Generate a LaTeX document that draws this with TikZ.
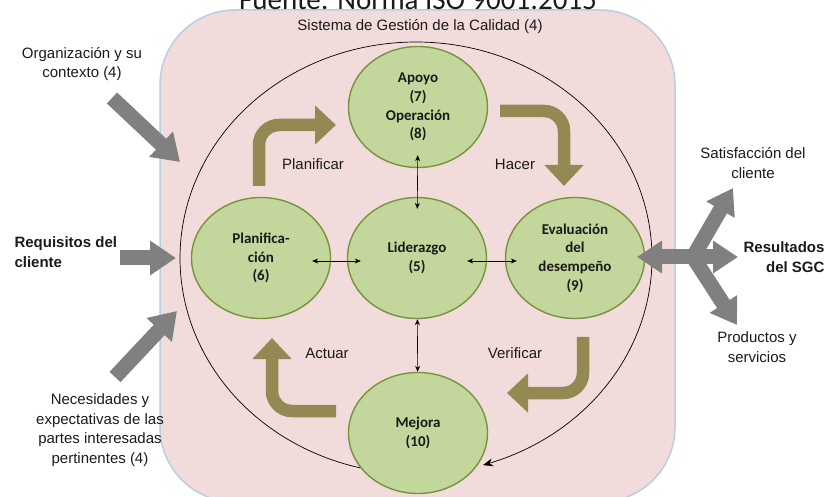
\documentclass[tikz,border=0pt]{standalone}
\usepackage{fontspec}
\setmainfont{Liberation Sans}
\newfontfamily\calfont{Carlito}
\usetikzlibrary{shapes.geometric,arrows.meta}
\definecolor{pinkbg}{HTML}{F2DCDB}
\definecolor{blueedge}{HTML}{B9CDE5}
\definecolor{greenfill}{HTML}{C3D69B}
\definecolor{greenedge}{HTML}{77933C}
\definecolor{olivec}{HTML}{938953}
\definecolor{grayarr}{HTML}{808080}
\definecolor{txt}{HTML}{1A1A1A}
\begin{document}
\begin{tikzpicture}[x=1pt,y=-1pt,
  proc/.style={ellipse, draw=greenedge, fill=greenfill, line width=1.4pt, minimum width=139pt, minimum height=121pt, inner sep=0pt, align=center, text=txt, font=\calfont\bfseries\fontsize{15}{18.7}\selectfont},
  lbl/.style={align=center, text=txt, font=\fontsize{15}{19.5}\selectfont},
  blbl/.style={align=center, text=txt, font=\bfseries\fontsize{15}{19.5}\selectfont},
  cyc/.style={draw=olivec, line width=12.5pt, rounded corners=20pt, -{Triangle[width=38pt,length=21pt]}},
  inarr/.style={draw=grayarr, line width=15pt, -{Triangle[width=33pt,length=26pt]}},
  outarr/.style={draw=grayarr, line width=15pt, line cap=round, -{Triangle[width=31pt,length=25pt]}},
  dbl/.style={{Stealth[length=6pt,width=5pt]}-{Stealth[length=6pt,width=5pt]}, line width=0.6pt, draw=black}
]
\useasboundingbox (0,0) rectangle (828,497);
\filldraw[fill=pinkbg, draw=blueedge, line width=1.5pt, rounded corners=75pt] (160,10) rectangle (675,502);
\node[anchor=base, font=\calfont\fontsize{29}{33}\selectfont, text=txt, inner sep=0pt] (src) at (418,10) {Fuente: Norma ISO 9001:2015};
\node[lbl] (sgc) at (420,27) {Sistema de Gestión de la Calidad (4)};

% process circles
\node[proc] (apo) at (418,107) {Apoyo\\(7)\\Operación\\(8)};
\node[proc] (lid) at (417,258) {Liderazgo\\(5)};
\node[proc] (pla) at (261,258) {Planifica-\\ción\\(6)};
\node[proc] (eva) at (575,258) {Evaluación\\del\\desempeño\\(9)};
\node[proc] (mej) at (418,433) {Mejora\\(10)};

% thin double arrows
\draw[dbl, shorten <=-13pt, shorten >=-12pt] (apo) -- (lid);
\draw[dbl] ([yshift=-3pt]pla.east) ++(-19pt,0) -- ([yshift=-3pt,xshift=14pt]lid.west);
\draw[dbl] ([yshift=-3pt,xshift=-20pt]lid.east) -- ([yshift=-3pt,xshift=12pt]eva.west);
\draw[dbl] (lid) -- (mej);

% big cycle ellipse
\draw[line width=0.7pt, -{Stealth[length=10pt,width=8pt]}] plot[domain=103.7:433.5, samples=160, smooth] ({416+236*cos(\x)},{258+216*sin(\x)});

% PDCA bent arrows
\coordinate (p1) at (259,186); \coordinate (p2) at (336,125);
\draw[cyc] (p1) |- (p2);
\coordinate (h1) at (500,111); \coordinate (h2) at (564,186);
\draw[cyc] (h1) -| (h2);
\coordinate (v1) at (583,337); \coordinate (v2) at (507,393);
\draw[cyc] (v1) |- (v2);
\coordinate (a1) at (336,411); \coordinate (a2) at (272,338);
\draw[cyc] (a1) -| (a2);
\node[lbl] (tp) at (313,164) {Planificar};
\node[lbl] (th) at (515,164) {Hacer};
\node[lbl] (ta) at (327,353) {Actuar};
\node[lbl] (tv) at (515,353) {Verificar};

% inputs
\node[lbl] (org) at (82,64) {Organización y su\\contexto (4)};
\coordinate (o1) at (112,98); \coordinate (o2) at (180,162);
\draw[inarr] (o1) -- (o2);
\node[blbl, align=left, anchor=west] (req) at (11,252) {Requisitos del\\cliente};
\coordinate (r1) at (120,258); \coordinate (r2) at (176,258);
\draw[inarr] (r1) -- (r2);
\node[lbl] (nec) at (100,430) {Necesidades y\\expectativas de las\\partes interesadas\\pertinentes (4)};
\coordinate (n1) at (115,377); \coordinate (n2) at (177,311);
\draw[inarr] (n1) -- (n2);

% outputs
\coordinate (j) at (693,257);
\coordinate (rl) at (637,257); \coordinate (rr) at (738,257);
\coordinate (ru) at (733,188); \coordinate (rd) at (737,325);
\draw[draw=grayarr, line width=15pt, {Triangle[width=31pt,length=25pt]}-{Triangle[width=31pt,length=25pt]}] (rl) -- (rr);
\draw[outarr] (j) -- (ru);
\draw[outarr] (j) -- (rd);
\node[lbl] (sat) at (753,163) {Satisfacción del\\cliente};
\node[blbl, align=right, anchor=east] (res) at (828,257) {Resultados\\del SGC};
\node[lbl] (prod) at (757,347) {Productos y\\servicios};
\end{tikzpicture}
\end{document}
